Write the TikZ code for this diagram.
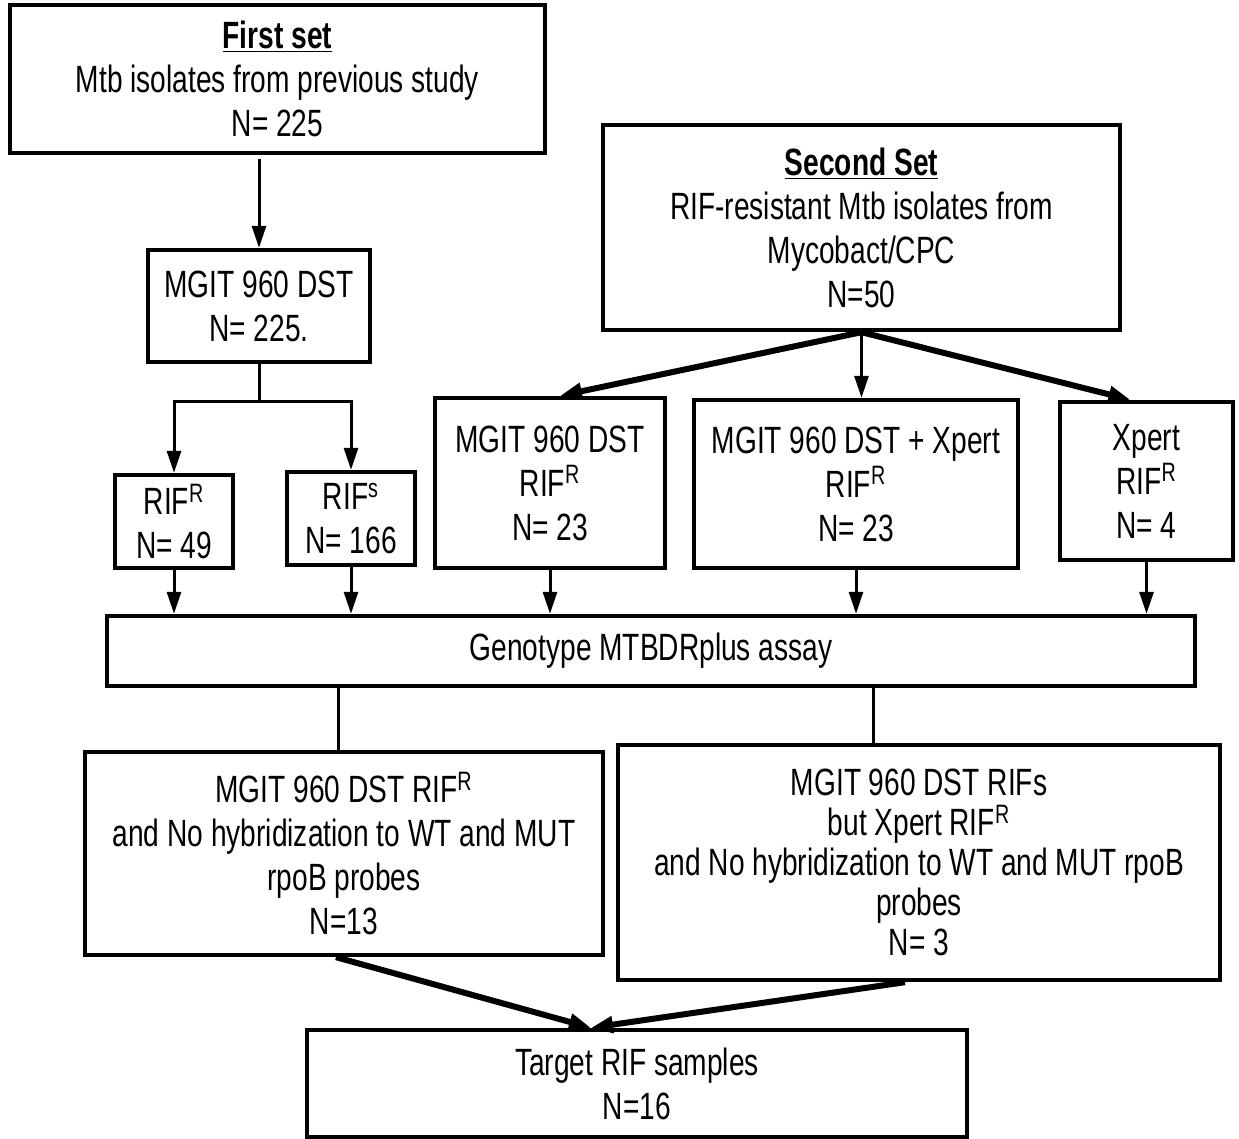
\documentclass[tikz,border=0pt]{standalone}
\usepackage{fontspec}
\setmainfont[FakeStretch=0.74]{Liberation Sans}
\usetikzlibrary{arrows.meta}

\tikzset{
  box/.style={draw, line width=2.2pt, inner sep=0pt, align=center,
    font=\fontsize{19}{22}\selectfont},
  arr/.style={line width=1.5pt, -{Triangle[length=11pt,width=7pt]}},
  thickarr/.style={line width=3pt, -{Triangle[length=11pt,width=8pt]}},
  link/.style={line width=1.5pt}
}

\begin{document}
\begin{tikzpicture}[x=0.5pt,y=-0.5pt]
      \useasboundingbox (0,0) rectangle (1239,1139);

      % first set
      \node[box, minimum width=267.5pt, minimum height=74pt] (first) at (277.5,79)
      {\underline{\textbf{First set}}\\Mtb isolates from previous study\\N= 225};

      \node[box, minimum width=111pt, minimum height=56pt] (mgitA) at (259,306)
      {MGIT 960 DST\\N= 225.};

      \node[box, minimum width=59pt, minimum height=46.5pt] (rifR) at (174,521.5)
      {RIF\textsuperscript{R}\\N= 49};

      \node[box, minimum width=64pt, minimum height=46.5pt] (rifS) at (351,518.5)
      {RIF\textsuperscript{s}\\N= 166};

      % second set
      \node[box, minimum width=258.5pt, minimum height=102.5pt] (second) at (861.5,227.5)
      {\underline{\textbf{Second Set}}\\RIF-resistant Mtb isolates from\\Mycobact/CPC\\N=50};

      \node[box, minimum width=115pt, minimum height=85pt] (mgitB) at (550,483)
      {MGIT 960 DST\\RIF\textsuperscript{R}\\N= 23};

      \node[box, minimum width=162pt, minimum height=84pt] (mgitX) at (856,484)
      {MGIT 960 DST + Xpert\\RIF\textsuperscript{R}\\N= 23};

      \node[box, minimum width=86.5pt, minimum height=79pt] (xpert) at (1146.5,481)
      {Xpert\\RIF\textsuperscript{R}\\N= 4};

      % assay
      \node[box, minimum width=544pt, minimum height=35pt] (geno) at (651,651)
      {Genotype MTBDRplus assay};

      % results
      \node[box, minimum width=259pt, minimum height=101.5pt] (noHybA) at (344,853.5)
      {MGIT 960 DST RIF\textsuperscript{R}\\and No hybridization to WT and MUT\\rpoB probes\\N=13};

      \node[box, minimum width=301pt, minimum height=117.5pt, font=\fontsize{19}{20}\selectfont]
      (noHybB) at (919,862.5)
      {MGIT 960 DST RIFs\\but Xpert RIF\textsuperscript{R}\\and No hybridization to WT and MUT rpoB\\probes\\N= 3};

      \node[box, minimum width=330pt, minimum height=53.5pt] (target) at (637,1083.5)
      {Target RIF samples\\N=16};

      \coordinate (split) at (259,402);

      % first set arrows
      \draw[arr] ([yshift=-2pt]first.south -| mgitA.north) -- (mgitA.north);
      \draw[link] (mgitA.south) -- (split);
      \draw[arr] (split) -| (rifR.north);
      \draw[arr] (split) -| (rifS.north);

      % second set arrows
      \draw[thickarr] (second.south) -- ([xshift=5pt]mgitB.north);
      \draw[arr] (second.south) -- (second.south |- mgitX.north);
      \draw[thickarr] (second.south) -- ([xshift=-8pt]xpert.north);

      % into the assay
      \foreach \n in {rifR, rifS, mgitB, mgitX, xpert}
               {
                 \draw[arr] (\n.south) -- (\n.south |- geno.north);
               }

      % out of the assay
      \draw[link] ([xshift=-3pt]noHybA.north |- geno.south) -- ([xshift=-3pt]noHybA.north);
      \draw[link] ([xshift=-23pt]noHybB.north |- geno.south) -- ([xshift=-23pt]noHybB.north);

      \draw[thickarr] ([xshift=-4pt]noHybA.south) -- ([xshift=-23pt]target.north);
      \draw[thickarr] ([xshift=-7pt]noHybB.south) -- ([xshift=-23pt]target.north);
\end{tikzpicture}
\end{document}
